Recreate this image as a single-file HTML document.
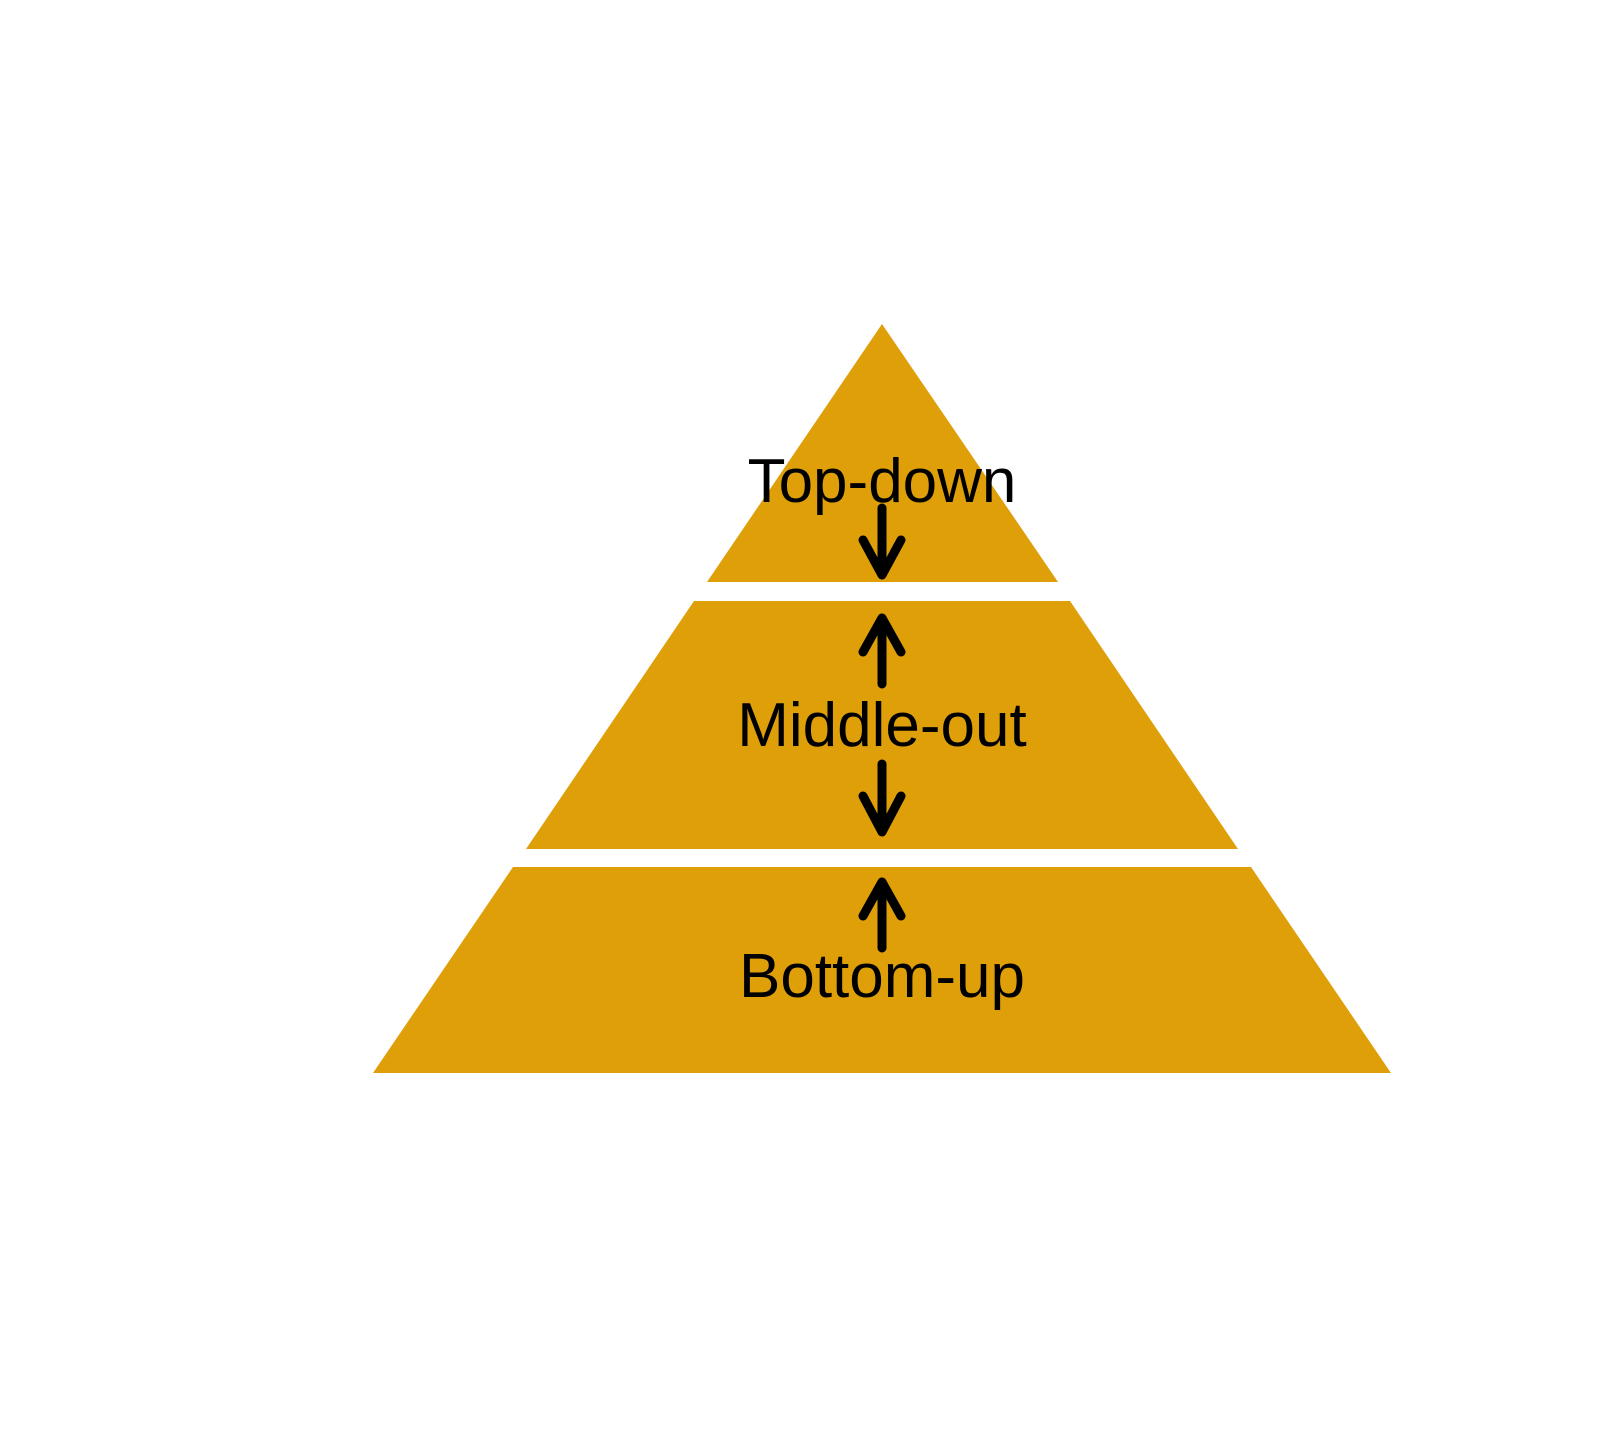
<!DOCTYPE html>
<html><head><meta charset="utf-8"><style>
html,body{margin:0;padding:0;background:#fff;}
svg{display:block;}
text{font-family:"Liberation Sans",Arial,sans-serif;font-size:62px;fill:#000;text-anchor:middle;}
</style></head><body>
<svg width="1620" height="1440" viewBox="0 0 1620 1440">
<rect width="1620" height="1440" fill="#fff"/>
<g fill="#DE9F08">
<polygon points="882,324 1058,582 707,582"/>
<polygon points="694,601 1070,601 1238,849 526,849"/>
<polygon points="513,867 1251,867 1391,1073 373,1073"/>
</g>
<text x="882" y="502">Top-down</text>
<text x="882" y="746">Middle-out</text>
<text x="882" y="997">Bottom-up</text>
<g stroke="#000" stroke-width="9" stroke-linecap="round" stroke-linejoin="round" fill="none">
<path d="M882 508 V575 M863 540 L882 575 L901 540"/>
<path d="M882 684 V618 M863 652 L882 618 L901 652"/>
<path d="M882 764 V832 M863 796 L882 832 L901 796"/>
<path d="M882 948 V882 M863 916 L882 882 L901 916"/>
</g>
</svg>
</body></html>
